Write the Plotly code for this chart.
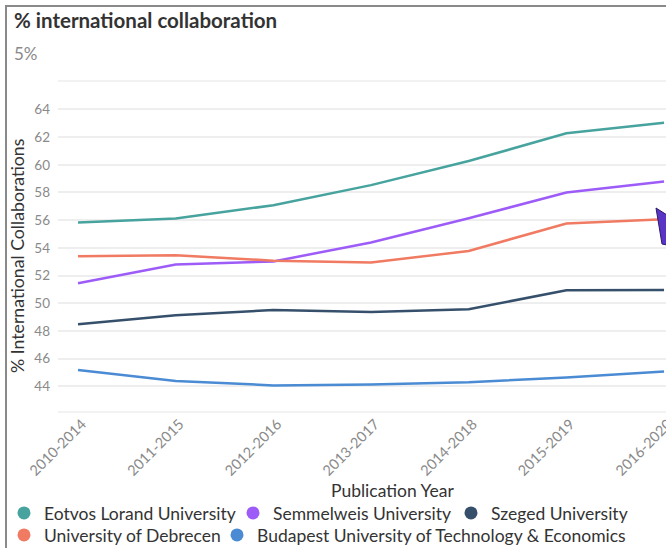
import plotly.graph_objects as go

years = ["2010-2014", "2011-2015", "2012-2016", "2013-2017", "2014-2018", "2015-2019", "2016-2020"]
eotvos = [55.83, 56.12, 57.08, 58.53, 60.27, 62.27, 63.04]
semmelweis = [51.45, 52.8, 53.02, 54.39, 56.14, 58.0, 58.8]
szeged = [48.48, 49.13, 49.52, 49.37, 49.57, 50.94, 50.96]
debrecen = [53.4, 53.47, 53.08, 52.94, 53.78, 55.76, 56.07]
bute = [45.18, 44.39, 44.07, 44.14, 44.29, 44.65, 45.08]

names = ["Eotvos Lorand University", "Semmelweis University", "Szeged University",
         "University of Debrecen", "Budapest University of Technology & Economics"]
series = [eotvos, semmelweis, szeged, debrecen, bute]
colors = ["#47a39e", "#9d5cf7", "#36506c", "#f07a62", "#4a8bd4"]
legend_ids = ["legend", "legend2", "legend3", "legend4", "legend5"]
legend_pos = [(4, 513), (233, 513), (451, 513), (4, 535), (217, 535)]

W, H = 666, 548
L, R, T, B = 58, 0, 81, 136
PW, PH = W - L - R, H - T - B

def px(x):
    return (x - L) / PW

def py(y):
    return (H - B - y) / PH

FONT = "Lato"
fig = go.Figure()
for n, s, c in zip(names, series, colors):
    fig.add_trace(go.Scatter(x=list(range(len(years))), y=s, mode="lines", name=n,
                             line=dict(color=c, width=2.5), showlegend=False,
                             hoverinfo="skip"))
for n, c, lg in zip(names, colors, legend_ids):
    fig.add_trace(go.Scatter(x=[None], y=[None], mode="markers", name=n, legend=lg,
                             marker=dict(color=c, size=13, symbol="circle")))

shapes = [
    dict(type="line", xref="paper", yref="paper", x0=0, x1=1, y0=1, y1=1,
         line=dict(color="#eeeeee", width=1.5)),
    dict(type="line", xref="paper", yref="paper", x0=0, x1=1, y0=0, y1=0,
         line=dict(color="#eeeeee", width=1.5)),
    dict(type="line", xref="paper", yref="paper", x0=px(6), x1=px(6), y0=py(5), y1=py(548),
         line=dict(color="#8a8a8a", width=2)),
    dict(type="line", xref="paper", yref="paper", x0=px(5), x1=px(666), y0=py(6), y1=py(6),
         line=dict(color="#8a8a8a", width=2)),
    dict(type="path", xref="paper", yref="paper",
         path=f"M {px(656)} {py(208)} L {px(667)} {py(215)} L {px(667)} {py(245)} L {px(662)} {py(244)} Z",
         fillcolor="#5a34c4", line=dict(color="#2b1a6e", width=1)),
]

annotations = [
    dict(text="<b>% international collaboration</b>", xref="paper", yref="paper",
         x=px(12), y=py(20), xanchor="left", yanchor="middle", showarrow=False,
         font=dict(family=FONT, size=20.5, color="#333333")),
    dict(text="5%", xref="paper", yref="paper", x=px(12), y=py(53),
         xanchor="left", yanchor="middle", showarrow=False,
         font=dict(family=FONT, size=17, color="#8a8a8a")),
    dict(text="% International Collaborations", xref="paper", yref="paper",
         x=px(18), y=py(256), xanchor="center", yanchor="middle", textangle=-90,
         showarrow=False, font=dict(family=FONT, size=17.7, color="#333333")),
    dict(text="Publication Year", xref="paper", yref="paper", x=px(392), y=py(490),
         xanchor="center", yanchor="middle", showarrow=False,
         font=dict(family=FONT, size=17.5, color="#333333")),
]

legend_common = dict(orientation="h", xref="container", yref="container",
                     xanchor="left", yanchor="middle",
                     font=dict(family=FONT, size=17.5, color="#333333"),
                     itemwidth=30, tracegroupgap=0, bgcolor="rgba(0,0,0,0)")
legends = {lg: dict(x=xp / W, y=1 - yp / H, **legend_common)
           for lg, (xp, yp) in zip(legend_ids, legend_pos)}

fig.update_layout(
    width=W, height=H,
    margin=dict(l=L, r=R, t=T, b=B, autoexpand=False),
    paper_bgcolor="white", plot_bgcolor="white",
    font=dict(family=FONT, color="#333333"),
    shapes=shapes, annotations=annotations,
    xaxis=dict(range=[-0.205, 6.02], tickmode="array", tickvals=list(range(len(years))),
               ticktext=years, tickangle=-45, showgrid=False, zeroline=False,
               showline=False, ticks="", ticklabeloverflow="allow", ticklabelshift=4,
               tickfont=dict(family=FONT, size=14.5, color="#8a8a8a")),
    yaxis=dict(range=[42.15, 66.05], tickvals=list(range(44, 65, 2)), showgrid=True,
               gridcolor="#eeeeee", gridwidth=1.5, zeroline=False, showline=False, ticks="",
               ticklabelstandoff=7,
               tickfont=dict(family=FONT, size=13.5, color="#8a8a8a")),
    showlegend=True,
    **legends,
)

fig.write_html("out.html", config={"displayModeBar": False},
               post_script="document.body.style.margin='0';document.body.style.overflow='hidden';")
